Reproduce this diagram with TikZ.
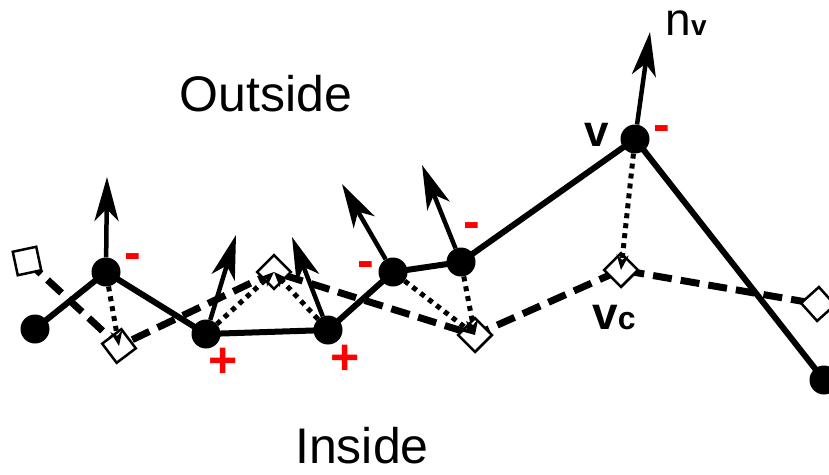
\documentclass[tikz,border=0pt]{standalone}
\usepackage{fontspec}
\setmainfont{Liberation Sans}
\usetikzlibrary{arrows.meta,backgrounds}
\begin{document}
\begin{tikzpicture}[x=1pt,y=-1pt,
  vtx/.style={circle,fill=black,minimum size=29pt,inner sep=0pt},
  sq/.style={rectangle,draw=black,fill=white,line width=2.5pt,minimum size=24pt,inner sep=0pt},
  poly/.style={line width=6pt,line join=round},
  cpoly/.style={line width=7pt,dash pattern=on 19pt off 9pt},
  proj/.style={line width=5pt,dash pattern=on 5pt off 5pt,-{Stealth[length=15pt,width=12pt]}},
  normal/.style={line width=4.5pt,-{Stealth[length=44pt,width=24pt,inset=12pt]}},
  sign/.style={text=red,font=\fontsize{50}{52}\selectfont\bfseries,anchor=base,inner sep=0pt},
  lbl/.style={anchor=base,inner sep=0pt}]
\path[use as bounding box] (0,0) rectangle (829,474);
\clip (0,0) rectangle (829,474);

% vertices of the contour
\node[vtx] (p0) at (35,329) {};
\node[vtx] (p1) at (106,272) {};
\node[vtx] (p2) at (206,334) {};
\node[vtx] (p3) at (328,330) {};
\node[vtx] (p4) at (393,272) {};
\node[vtx] (p5) at (461,262) {};
\node[vtx] (p6) at (635,139) {};
\node[vtx] (p7) at (824,380) {};

% projected points
\node[sq,rotate=12] (s0) at (27,261) {};
\node[sq,rotate=37] (s1) at (119,346) {};
\node[sq,rotate=45] (s2) at (274,272) {};
\node[sq,rotate=45] (s3) at (475,335) {};
\node[sq,rotate=45] (s4) at (621,270) {};
\node[sq,rotate=42] (s5) at (818,304) {};

\begin{pgfonlayer}{background}
  \draw[poly] (p0.center) -- (p1.center) -- (p2.center) -- (p3.center) -- (p4.center)
    -- (p5.center) -- (p6.center) -- (p7.center);
  \draw[cpoly] (s0.center) -- (s1.center) -- (s2.center) -- (s3.center) -- (s4.center) -- (s5.center);
\end{pgfonlayer}

% projections
\draw[proj] (p1) -- (s1.center);
\draw[proj] (p2) -- (s2.center);
\draw[proj] (p3) -- (s2.center);
\draw[proj] (p4) -- (s3.center);
\draw[proj] (p5) -- (s3.center);
\draw[proj] (p6) -- (s4.center);

% normals
\coordinate (t1) at (107,177);
\coordinate (t2) at (236,235);
\coordinate (t3) at (292,237);
\coordinate (t4) at (342,184);
\coordinate (t5) at (422,165);
\coordinate (t6) at (650,32);
\draw[normal] (p1) -- (t1);
\draw[normal] (p2) -- (t2);
\draw[normal] (p3) -- (t3);
\draw[normal] (p4) -- (t4);
\draw[normal] (p5) -- (t5);
\draw[normal] (p6) -- (t6);

% signs
\node[sign] (m1) at (133,269) {-};
\node[sign] (m4) at (366,277) {-};
\node[sign] (m5) at (472,238) {-};
\node[sign] (m6) at (662,141) {-};
\node[sign] (a2) at (223,377) {+};
\node[sign] (a3) at (345,374) {+};

% labels
\node[lbl,font=\fontsize{44}{46}\selectfont\bfseries] (vl) at (597,146) {v};
\node[lbl,font=\bfseries] (vcl) at (614,329) {{\fontsize{46}{48}\selectfont v}{\fontsize{32}{34}\selectfont c}};
\node[lbl] (nvl) at (686,35) {{\fontsize{46}{48}\selectfont n}{\fontsize{28}{30}\selectfont\bfseries v}};
\node[lbl,font=\fontsize{50}{52}\selectfont] (out) at (266,111) {Outside};
\node[lbl,font=\fontsize{50}{52}\selectfont] (in) at (362,463) {Inside};
\end{tikzpicture}
\end{document}
